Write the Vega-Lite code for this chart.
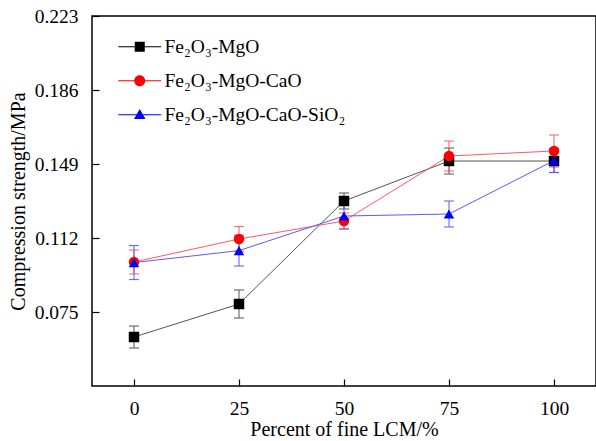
{
  "$schema": "https://vega.github.io/schema/vega-lite/v6.json",
  "width": 504,
  "height": 370,
  "autosize": {"type": "none"},
  "padding": {"left": 92, "top": 16, "right": 0, "bottom": 55},
  "background": "white",
  "config": {
    "font": "Liberation Serif",
    "view": {"stroke": "black", "strokeWidth": 1.5},
    "axis": {
      "domain": false,
      "grid": false,
      "tickColor": "black",
      "tickSize": -7,
      "tickWidth": 1.2,
      "labelFont": "Liberation Serif",
      "labelFontSize": 19.5,
      "labelColor": "black",
      "titleFont": "Liberation Serif",
      "titleFontSize": 20,
      "titleFontWeight": "normal",
      "titleColor": "black"
    },
    "legend": {
      "labelFont": "Liberation Serif",
      "labelFontSize": 19.5,
      "labelColor": "black",
      "labelLimit": 400
    }
  },
  "data": {
    "values": [
      {"series": "Fe₂O₃-MgO", "x": 0, "y": 0.0625, "err": 0.0055},
      {"series": "Fe₂O₃-MgO", "x": 25, "y": 0.079, "err": 0.007},
      {"series": "Fe₂O₃-MgO", "x": 50, "y": 0.1305, "err": 0.004},
      {"series": "Fe₂O₃-MgO", "x": 75, "y": 0.1505, "err": 0.0065},
      {"series": "Fe₂O₃-MgO", "x": 100, "y": 0.1505, "err": 0.0057},
      {"series": "Fe₂O₃-MgO-CaO", "x": 0, "y": 0.1, "err": 0.006},
      {"series": "Fe₂O₃-MgO-CaO", "x": 25, "y": 0.1115, "err": 0.0062},
      {"series": "Fe₂O₃-MgO-CaO", "x": 50, "y": 0.1205, "err": 0.004},
      {"series": "Fe₂O₃-MgO-CaO", "x": 75, "y": 0.153, "err": 0.0075},
      {"series": "Fe₂O₃-MgO-CaO", "x": 100, "y": 0.1555, "err": 0.008},
      {"series": "Fe₂O₃-MgO-CaO-SiO₂", "x": 0, "y": 0.0997, "err": 0.0085},
      {"series": "Fe₂O₃-MgO-CaO-SiO₂", "x": 25, "y": 0.1057, "err": 0.0077},
      {"series": "Fe₂O₃-MgO-CaO-SiO₂", "x": 50, "y": 0.123, "err": 0.0065},
      {"series": "Fe₂O₃-MgO-CaO-SiO₂", "x": 75, "y": 0.124, "err": 0.0065},
      {"series": "Fe₂O₃-MgO-CaO-SiO₂", "x": 100, "y": 0.1507, "err": 0.006}
    ]
  },
  "encoding": {
    "x": {
      "field": "x",
      "type": "quantitative",
      "scale": {"domain": [-10, 110], "nice": false, "zero": false},
      "axis": {"values": [0, 25, 50, 75, 100], "title": "Percent of fine LCM/%", "labelPadding": 20, "titlePadding": 2}
    },
    "y": {
      "field": "y",
      "type": "quantitative",
      "scale": {"domain": [0.038, 0.223], "nice": false, "zero": false},
      "axis": {"values": [0.075, 0.112, 0.149, 0.186, 0.223], "format": ".3f", "title": "Compression strength/MPa", "labelPadding": 21, "titlePadding": 6}
    }
  },
  "layer": [
    {
      "mark": {"type": "line", "strokeWidth": 1},
      "encoding": {
        "color": {
          "field": "series",
          "type": "nominal",
          "scale": {"domain": ["Fe₂O₃-MgO", "Fe₂O₃-MgO-CaO", "Fe₂O₃-MgO-CaO-SiO₂"], "range": ["#555555", "#ff5a5a", "#5a5aff"]},
          "legend": null
        }
      }
    },
    {
      "mark": {"type": "errorbar", "ticks": {"size": 10, "opacity": 1}, "rule": {"strokeWidth": 1, "opacity": 1}},
      "encoding": {
        "yError": {"field": "err"},
        "color": {
          "field": "series",
          "type": "nominal",
          "scale": {"domain": ["Fe₂O₃-MgO", "Fe₂O₃-MgO-CaO", "Fe₂O₃-MgO-CaO-SiO₂"], "range": ["#555555", "#ff5a5a", "#5a5aff"]},
          "legend": null
        }
      }
    },
    {
      "mark": {"type": "point", "filled": true, "opacity": 1, "size": 110},
      "encoding": {
        "color": {
          "field": "series",
          "type": "nominal",
          "scale": {"domain": ["Fe₂O₃-MgO", "Fe₂O₃-MgO-CaO", "Fe₂O₃-MgO-CaO-SiO₂"], "range": ["#000000", "#ff0000", "#0000ff"]},
          "legend": null
        },
        "shape": {
          "field": "series",
          "type": "nominal",
          "scale": {"domain": ["Fe₂O₃-MgO", "Fe₂O₃-MgO-CaO", "Fe₂O₃-MgO-CaO-SiO₂"], "range": ["square", "circle", "triangle-up"]},
          "legend": null
        }
      }
    },
    {
      "mark": {"type": "point", "filled": true, "opacity": 0, "size": 100},
      "encoding": {
        "color": {
          "field": "series",
          "type": "nominal",
          "scale": {"domain": ["Fe₂O₃-MgO", "Fe₂O₃-MgO-CaO", "Fe₂O₃-MgO-CaO-SiO₂"], "range": ["#000000", "#ff0000", "#0000ff"]},
          "legend": {
            "title": null,
            "orient": "none",
            "legendX": 38,
            "legendY": 21,
            "padding": 0,
            "symbolSize": 100,
            "symbolStrokeWidth": 0,
            "labelOffset": 15,
            "rowPadding": 13,
            "encode": {"symbols": {"update": {"opacity": {"value": 1}}}}
          }
        },
        "shape": {
          "field": "series",
          "type": "nominal",
          "scale": {"domain": ["Fe₂O₃-MgO", "Fe₂O₃-MgO-CaO", "Fe₂O₃-MgO-CaO-SiO₂"], "range": [
            "M-4.3,-0.1H4.3V0.1H-4.3Z M-1,-1H1V1H-1Z",
            "M-4.3,-0.1H4.3V0.1H-4.3Z M1.1,0A1.1,1.1 0 1,1 -1.1,0A1.1,1.1 0 1,1 1.1,0Z",
            "M-4.3,-0.1H4.3V0.1H-4.3Z M0,-1.15L1.15,0.85L-1.15,0.85Z"
          ]},
          "legend": {
            "title": null,
            "orient": "none",
            "legendX": 38,
            "legendY": 21,
            "padding": 0,
            "symbolSize": 100,
            "symbolStrokeWidth": 0,
            "labelOffset": 15,
            "rowPadding": 13,
            "encode": {"symbols": {"update": {"opacity": {"value": 1}}}}
          }
        }
      }
    }
  ],
  "resolve": {"scale": {"color": "independent", "shape": "independent"}}
}
